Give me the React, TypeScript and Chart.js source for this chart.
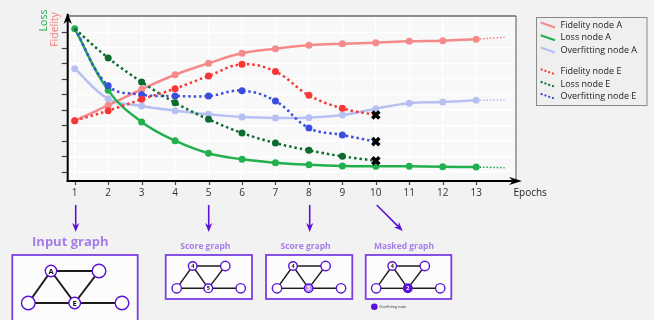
import React, { useEffect, useRef } from "react";
import { Chart, registerables } from "chart.js";
Chart.register(...registerables);

// ---- data ----
const epochsA = [1, 2, 3, 4, 5, 6, 7, 8, 9, 10, 11, 12, 13];
const fidelityA = [4.29, 5.29, 6.32, 7.26, 8.0, 8.64, 8.94, 9.16, 9.26, 9.33, 9.42, 9.46, 9.55];
const lossA = [10.23, 6.25, 4.21, 3.0, 2.19, 1.8, 1.58, 1.45, 1.37, 1.35, 1.35, 1.32, 1.3];
const overfitA = [7.65, 5.71, 5.24, 4.94, 4.71, 4.53, 4.47, 4.49, 4.66, 5.07, 5.42, 5.5, 5.61];

const epochsE = [1, 2, 3, 4, 5, 6, 7, 8, 9, 10];
const fidelityE = [4.29, 4.94, 5.67, 6.36, 7.18, 7.93, 7.46, 5.93, 5.09, 4.66];
const lossE = [10.23, 8.34, 6.79, 5.45, 4.38, 3.5, 2.85, 2.38, 1.99, 1.71];
const overfitE = [10.23, 6.55, 5.97, 5.89, 5.89, 6.23, 5.56, 3.82, 3.37, 2.94];

const extEpochs = [13, 13.85];
const fidelityAExt = [9.55, 9.68];
const lossAExt = [1.3, 1.26];
const overfitAExt = [5.61, 5.63];

const xTicks = [1, 2, 3, 4, 5, 6, 7, 8, 9, 10, 11, 12, 13];
const yTicks = [1, 2, 3, 4, 5, 6, 7, 8, 9, 10];

const legendLabels = [
  "Fidelity node A",
  "Loss node A",
  "Overfitting node A",
  "Fidelity node E",
  "Loss node E",
  "Overfitting node E",
];

// ---- styles ----
const C_FID_A = "#f58a8a";
const C_LOSS_A = "#22b04f";
const C_OVF_A = "#b7c0f2";
const C_FID_E = "#fa3535";
const C_LOSS_E = "#0c6b2f";
const C_OVF_E = "#3a4de0";
const PURPLE = "#5a12d8";
const FONT = "'Open Sans', 'Noto Sans', sans-serif";

const toXY = (xs: number[], ys: number[]) => xs.map((x, i) => ({ x, y: ys[i] }));

function eStyle(color: string, hideFirst: boolean) {
  const n = epochsE.length;
  return {
    pointStyle: epochsE.map((_, i) => (i === n - 1 ? "crossRot" : "circle")),
    pointRadius: epochsE.map((_, i) => (i === n - 1 ? 5 : i === 0 && hideFirst ? 0 : 3.5)),
    pointBorderWidth: epochsE.map((_, i) => (i === n - 1 ? 3.5 : 0)),
    pointBackgroundColor: epochsE.map((_, i) => (i === n - 1 ? "#000" : color)),
    pointBorderColor: epochsE.map((_, i) => (i === n - 1 ? "#000" : color)),
  };
}

function arrow(ctx: CanvasRenderingContext2D, x1: number, y1: number, x2: number, y2: number, color: string, w: number, hl: number, hw: number) {
  const a = Math.atan2(y2 - y1, x2 - x1);
  ctx.save();
  ctx.strokeStyle = color;
  ctx.fillStyle = color;
  ctx.lineWidth = w;
  ctx.beginPath();
  ctx.moveTo(x1, y1);
  ctx.lineTo(x2 - Math.cos(a) * hl * 0.6, y2 - Math.sin(a) * hl * 0.6);
  ctx.stroke();
  ctx.translate(x2, y2);
  ctx.rotate(a);
  ctx.beginPath();
  ctx.moveTo(0, 0);
  ctx.lineTo(-hl, -hw);
  ctx.lineTo(-hl * 0.7, 0);
  ctx.lineTo(-hl, hw);
  ctx.closePath();
  ctx.fill();
  ctx.restore();
}

type GNode = { x: number; y: number; r: number; label?: string; fill?: string; textColor?: string };

function drawGraph(
  ctx: CanvasRenderingContext2D,
  box: { x: number; y: number; w: number; h: number },
  nodes: GNode[],
  edges: number[][],
  edgeW: number,
  fontSize: number,
  title: string,
  titleX: number,
  titleY: number,
  titleSize: number
) {
  ctx.save();
  ctx.fillStyle = "#fcfcfc";
  ctx.fillRect(box.x, box.y, box.w, box.h);
  ctx.strokeStyle = "#7b3fe4";
  ctx.lineWidth = 1.8;
  ctx.strokeRect(box.x, box.y, box.w, box.h);
  ctx.strokeStyle = "#1c1c1c";
  ctx.lineWidth = edgeW;
  for (const [a, b] of edges) {
    ctx.beginPath();
    ctx.moveTo(nodes[a].x, nodes[a].y);
    ctx.lineTo(nodes[b].x, nodes[b].y);
    ctx.stroke();
  }
  for (const n of nodes) {
    ctx.beginPath();
    ctx.arc(n.x, n.y, n.r, 0, Math.PI * 2);
    ctx.fillStyle = n.fill || "#ffffff";
    ctx.fill();
    ctx.strokeStyle = PURPLE;
    ctx.lineWidth = 1.4;
    ctx.stroke();
    if (n.label) {
      ctx.fillStyle = n.textColor || "#111";
      ctx.font = `bold ${fontSize}px ${FONT}`;
      ctx.textAlign = "center";
      ctx.textBaseline = "middle";
      ctx.fillText(n.label, n.x, n.y + 0.5);
    }
  }
  ctx.fillStyle = "#a67ee8";
  ctx.font = `bold ${titleSize}px ${FONT}`;
  ctx.textAlign = "center";
  ctx.textBaseline = "middle";
  ctx.fillText(title, titleX, titleY);
  ctx.restore();
}

const decorPlugin = {
  id: "decor",
  beforeDraw(chart: any) {
    const { ctx, chartArea: ca } = chart;
    ctx.save();
    ctx.fillStyle = "#f2f2f2";
    ctx.fillRect(0, 0, chart.width, chart.height);
    ctx.fillStyle = "#f8f8f8";
    ctx.fillRect(ca.left, ca.top, ca.right - ca.left, ca.bottom - ca.top);
    ctx.restore();
  },
  afterDraw(chart: any) {
    const { ctx, chartArea: ca } = chart;
    const xs = chart.scales.x;
    const ys = chart.scales.y;
    ctx.save();
    // frame
    ctx.strokeStyle = "#222";
    ctx.lineWidth = 1.2;
    ctx.beginPath();
    ctx.moveTo(ca.left, ca.top);
    ctx.lineTo(ca.right, ca.top);
    ctx.stroke();
    ctx.strokeStyle = "#555";
    ctx.lineWidth = 1;
    ctx.beginPath();
    ctx.moveTo(ca.right, ca.top);
    ctx.lineTo(ca.right, ca.bottom);
    ctx.stroke();
    // ticks
    ctx.strokeStyle = "#444";
    ctx.lineWidth = 1.2;
    for (const v of yTicks) {
      const y = Math.round(ys.getPixelForValue(v)) + 0.5;
      ctx.beginPath();
      ctx.moveTo(ca.left - 6, y);
      ctx.lineTo(ca.left, y);
      ctx.stroke();
    }
    for (const v of xTicks) {
      const x = Math.round(xs.getPixelForValue(v)) + 0.5;
      ctx.beginPath();
      ctx.moveTo(x, ca.bottom);
      ctx.lineTo(x, ca.bottom + 4);
      ctx.stroke();
    }
    // axes with arrows
    ctx.strokeStyle = "#000";
    ctx.lineWidth = 2;
    ctx.beginPath();
    ctx.moveTo(ca.left, ca.bottom + 1);
    ctx.lineTo(ca.left, ca.top - 2);
    ctx.stroke();
    arrow(ctx, ca.left, ca.top + 5, ca.left, ca.top - 3, "#000", 2, 11, 4.2);
    ctx.beginPath();
    ctx.moveTo(ca.left - 1, ca.bottom);
    ctx.lineTo(ca.right + 2, ca.bottom);
    ctx.stroke();
    arrow(ctx, ca.right - 5, ca.bottom, ca.right + 6, ca.bottom, "#000", 2, 13, 4);

    // axis titles
    ctx.font = `10.5px ${FONT}`;
    ctx.textAlign = "center";
    ctx.textBaseline = "middle";
    ctx.save();
    ctx.translate(44, 20.5);
    ctx.rotate(-Math.PI / 2);
    ctx.fillStyle = C_LOSS_A;
    ctx.fillText("Loss", 0, 0);
    ctx.restore();
    ctx.save();
    ctx.translate(55, 29.5);
    ctx.rotate(-Math.PI / 2);
    ctx.fillStyle = "#f27c7c";
    ctx.fillText("Fidelity", 0, 0);
    ctx.restore();
    ctx.fillStyle = "#222";
    ctx.textAlign = "left";
    ctx.font = `10px ${FONT}`;
    ctx.fillText("Epochs", 513.5, 193.5);

    // legend
    ctx.fillStyle = "#efefef";
    ctx.fillRect(536.5, 17.5, 110.5, 88);
    ctx.strokeStyle = "#8a8a8a";
    ctx.lineWidth = 1;
    ctx.strokeRect(536.5, 17.5, 110.5, 88);
    const rows = [25, 37.7, 50, 71.7, 84.3, 96.3];
    const cols = [C_FID_A, C_LOSS_A, C_OVF_A, C_FID_E, C_LOSS_E, C_OVF_E];
    ctx.font = `9px ${FONT}`;
    ctx.textAlign = "left";
    ctx.textBaseline = "middle";
    rows.forEach((y, i) => {
      ctx.strokeStyle = cols[i];
      ctx.lineWidth = 2;
      ctx.setLineDash(i >= 3 ? [2, 2] : []);
      ctx.beginPath();
      ctx.moveTo(540.7, y - 2.5);
      ctx.lineTo(555, y + 2.5);
      ctx.stroke();
      ctx.setLineDash([]);
      ctx.fillStyle = "#222";
      ctx.fillText(legendLabels[i], 560.5, y);
    });

    // arrows to graphs
    arrow(ctx, 75.7, 205, 75.7, 232, PURPLE, 1.6, 9, 3.6);
    arrow(ctx, 208.7, 205, 208.7, 232, PURPLE, 1.6, 9, 3.6);
    arrow(ctx, 309.7, 205, 309.7, 232, PURPLE, 1.6, 9, 3.6);
    arrow(ctx, 376.7, 205, 402.7, 231, PURPLE, 1.6, 9, 3.6);

    // input graph
    drawGraph(
      ctx,
      { x: 12.3, y: 255, w: 125.4, h: 75 },
      [
        { x: 51, y: 271, r: 5.7, label: "A" },
        { x: 99, y: 271, r: 6.8 },
        { x: 28.3, y: 303, r: 6.8 },
        { x: 74.7, y: 303, r: 5.8, label: "E" },
        { x: 122, y: 303, r: 6.8 },
      ],
      [[0, 1], [0, 2], [0, 3], [1, 3], [2, 3], [3, 4]],
      2,
      7.5,
      "Input graph",
      70.3,
      242.7,
      13
    );
    const small = (dx: number, label: string, fill?: string, tc?: string): GNode[] => [
      { x: 192.7 + dx, y: 266, r: 4.3, label: "4" },
      { x: 225.3 + dx, y: 266, r: 4.7 },
      { x: 176.7 + dx, y: 288.3, r: 4.7 },
      { x: 208.3 + dx, y: 288.3, r: 4.3, label, fill, textColor: tc },
      { x: 240.7 + dx, y: 288.3, r: 4.7 },
    ];
    const smallEdges = [[0, 1], [0, 2], [0, 3], [1, 3], [2, 3], [3, 4]];
    drawGraph(ctx, { x: 165.7, y: 255, w: 86.3, h: 44 }, small(0, "5"), smallEdges, 1.4, 5.5, "Score graph", 205.3, 246.7, 8.5);
    drawGraph(ctx, { x: 266, y: 255, w: 86.3, h: 44 }, small(100.3, "3", "#b794e8", "#fff"), smallEdges, 1.4, 5.5, "Score graph", 305.6, 246.7, 8.5);
    drawGraph(ctx, { x: 365.7, y: 255, w: 85.6, h: 44 }, small(199.5, "2", PURPLE, "#fff"), smallEdges, 1.4, 5.5, "Masked graph", 404, 246.7, 8.5);

    ctx.beginPath();
    ctx.arc(374.3, 306.7, 3.3, 0, Math.PI * 2);
    ctx.fillStyle = PURPLE;
    ctx.fill();
    ctx.fillStyle = "#333";
    ctx.font = `3.5px ${FONT}`;
    ctx.textAlign = "left";
    ctx.textBaseline = "middle";
    ctx.fillText("Overfitting node", 379.5, 307);
    ctx.restore();
  },
};

export default function App() {
  const ref = useRef<HTMLCanvasElement | null>(null);
  useEffect(() => {
    if (!ref.current) return;
    const solid = (label: string, color: string, xs: number[], ys: number[]) => ({
      label,
      data: toXY(xs, ys),
      borderColor: color,
      backgroundColor: color,
      borderWidth: 2.5,
      pointRadius: 3.5,
      pointBorderWidth: 0,
      pointBackgroundColor: color,
      tension: 0.4,
      fill: false,
    });
    const dotted = (label: string, color: string, ys: number[], hideFirst: boolean) => ({
      label,
      data: toXY(epochsE, ys),
      borderColor: color,
      backgroundColor: color,
      borderWidth: 2.5,
      borderDash: [2.5, 3],
      tension: 0.4,
      fill: false,
      ...eStyle(color, hideFirst),
    });
    const ext = (color: string, ys: number[]) => ({
      label: "",
      data: toXY(extEpochs, ys),
      borderColor: color,
      borderWidth: 1.6,
      borderDash: [1.6, 1.8],
      pointRadius: 0,
      tension: 0,
      fill: false,
    });
    const chart = new Chart(ref.current, {
      type: "line",
      data: {
        datasets: [
          dotted(legendLabels[3], C_FID_E, fidelityE, false),
          dotted(legendLabels[4], C_LOSS_E, lossE, true),
          dotted(legendLabels[5], C_OVF_E, overfitE, true),
          solid(legendLabels[1], C_LOSS_A, epochsA, lossA),
          solid(legendLabels[0], C_FID_A, epochsA, fidelityA),
          solid(legendLabels[2], C_OVF_A, epochsA, overfitA),
          ext(C_FID_A, fidelityAExt),
          ext(C_LOSS_A, lossAExt),
          ext(C_OVF_A, overfitAExt),
        ] as any,
      },
      options: {
        responsive: false,
        animation: false,
        devicePixelRatio: 1,
        layout: { padding: { left: 67.7, right: 138, top: 16, bottom: 0 } },
        plugins: { legend: { display: false }, tooltip: { enabled: false }, title: { display: false } },
        scales: {
          x: {
            type: "linear",
            min: 0.79,
            max: 14.19,
            afterBuildTicks: (s: any) => {
              s.ticks = xTicks.map((v) => ({ value: v }));
            },
            afterFit: (s: any) => {
              s.height = 139;
            },
            ticks: {
              autoSkip: false,
              maxRotation: 0,
              padding: 6,
              color: "#333",
              font: { family: FONT, size: 10 },
              callback: (v: any) => String(v),
            },
            grid: { color: "#ffffff", lineWidth: 1.2, drawTicks: false },
            border: { display: false },
          },
          y: {
            type: "linear",
            min: 0.4,
            max: 11.05,
            afterBuildTicks: (s: any) => {
              s.ticks = yTicks.map((v) => ({ value: v }));
            },
            afterFit: (s: any) => {
              s.width = 0;
            },
            ticks: { display: false },
            grid: { color: "#ffffff", lineWidth: 1.2, drawTicks: false },
            border: { display: false },
          },
        },
      } as any,
      plugins: [decorPlugin as any],
    });
    return () => chart.destroy();
  }, []);
  return (
    <div style={{ position: "fixed", left: 0, top: 0, width: 654, height: 320, background: "#f2f2f2" }}>
      <canvas ref={ref} width={654} height={320} style={{ display: "block", width: 654, height: 320 }} />
    </div>
  );
}
